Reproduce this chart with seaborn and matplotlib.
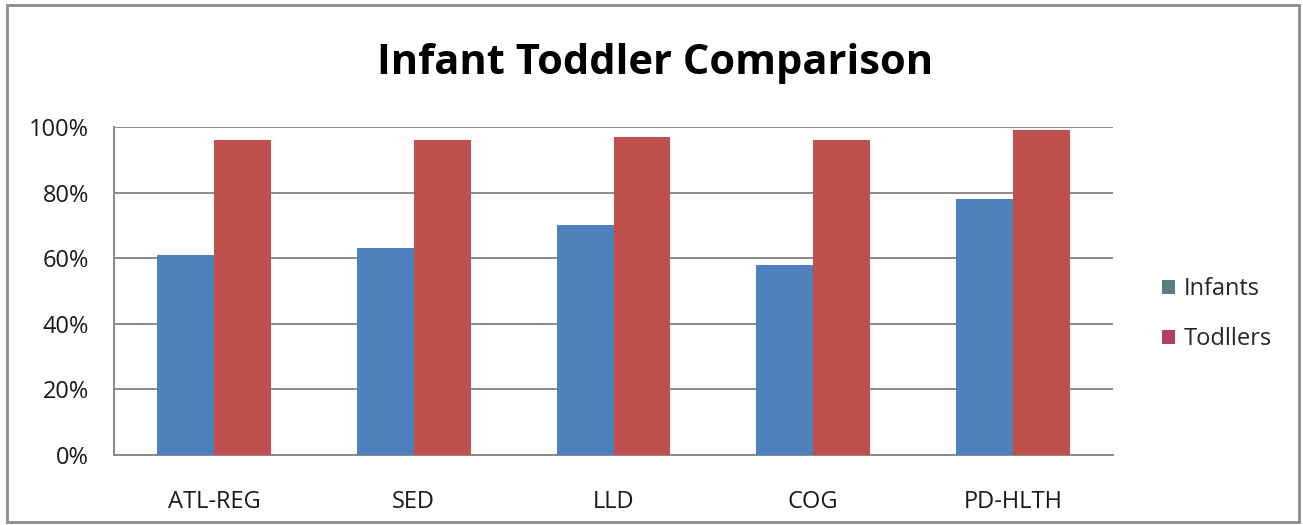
import matplotlib
matplotlib.use("Agg")
import matplotlib.pyplot as plt
import seaborn as sns
import pandas as pd
from matplotlib.patches import Rectangle, Patch

categories = ["ATL-REG", "SED", "LLD", "COG", "PD-HLTH"]
infants = [0.61, 0.63, 0.70, 0.58, 0.78]
toddlers = [0.96, 0.96, 0.97, 0.96, 0.99]
series_names = ["Infants", "Todllers"]
yticks = [0, 0.2, 0.4, 0.6, 0.8, 1.0]
ytick_labels = ["0%", "20%", "40%", "60%", "80%", "100%"]

df = pd.DataFrame({
    "category": categories * 2,
    "value": infants + toddlers,
    "series": [series_names[0]] * len(categories) + [series_names[1]] * len(categories),
})

sns.set_theme(style="white")
plt.rcParams["font.family"] = ["Open Sans", "DejaVu Sans"]

fig = plt.figure(figsize=(13.03, 5.25), dpi=100)
ax = fig.add_axes([114 / 1303, 1 - 455 / 525, (1113 - 114) / 1303, (455 - 127) / 525])

palette = {"Infants": "#4F81BD", "Todllers": "#C0504D"}
sns.barplot(data=df, x="category", y="value", hue="series", palette=palette,
            width=0.57, gap=0, saturation=1, ax=ax, legend=False, zorder=3,
            linewidth=0)

ax.set_ylim(0, 1.0)
ax.set_xlim(-0.5, len(categories) - 0.5)
ax.set_yticks(yticks)
ax.set_yticklabels(ytick_labels)
ax.yaxis.grid(True, color="#8a8a8a", linewidth=1.4, zorder=0)
ax.set_axisbelow(True)
ax.set_xlabel("")
ax.set_ylabel("")
for s in ["top", "right"]:
    ax.spines[s].set_visible(False)
for s in ["left", "bottom"]:
    ax.spines[s].set_color("#8a8a8a")
    ax.spines[s].set_linewidth(1.4)
ax.tick_params(axis="x", length=0, pad=25, labelsize=17, colors="#1a1a1a")
ax.tick_params(axis="y", length=0, pad=18, labelsize=17, colors="#1a1a1a")

fig.text(655 / 1303, 1 - 63 / 525, "Infant Toddler Comparison", ha="center", va="center",
         fontsize=30, fontweight="bold", color="black")

handles = [Patch(facecolor="#5B7F80", edgecolor="none"),
           Patch(facecolor="#B34060", edgecolor="none")]
fig.legend(handles, series_names, loc="center left",
           bbox_to_anchor=(1141 / 1303, 1 - 314 / 525), frameon=False,
           fontsize=17, handlelength=0.55, handleheight=0.55, handletextpad=0.35,
           labelspacing=1.1)

fig.patches.append(Rectangle((7 / 1303, 3 / 525), (1299 - 7) / 1303, (520 - 3) / 525,
                             transform=fig.transFigure, fill=False,
                             edgecolor="#8c8c8c", linewidth=2))

fig.savefig("out.png", dpi=100, facecolor="white")
